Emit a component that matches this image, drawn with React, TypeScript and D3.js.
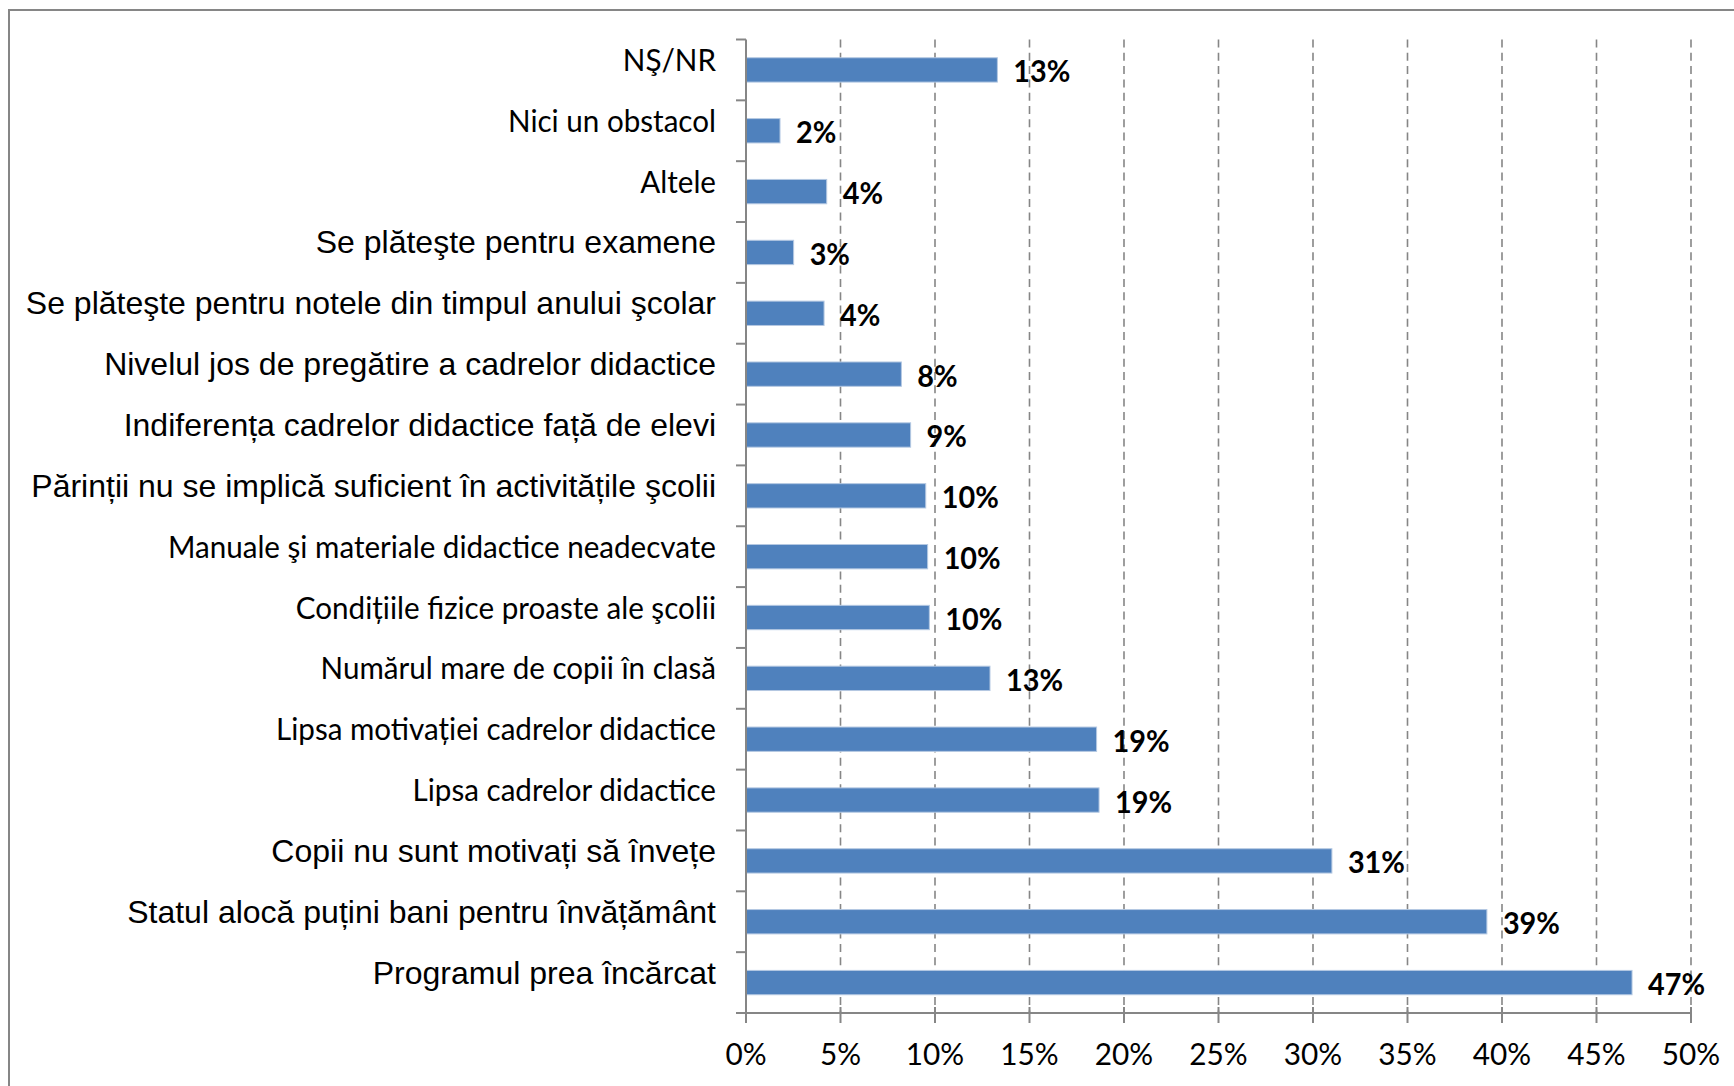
import React from "react";
import * as d3 from "d3";

const categories = [
  "NŞ/NR",
  "Nici un obstacol",
  "Altele",
  "Se plăteşte pentru examene",
  "Se plăteşte pentru notele din timpul anului şcolar",
  "Nivelul jos de pregătire a cadrelor didactice",
  "Indiferența cadrelor didactice față de elevi",
  "Părinții nu se implică suficient în activitățile şcolii",
  "Manuale şi materiale didactice neadecvate",
  "Condițiile fizice proaste ale şcolii",
  "Numărul mare de copii în clasă",
  "Lipsa motivației cadrelor didactice",
  "Lipsa cadrelor didactice",
  "Copii nu sunt motivați să învețe",
  "Statul alocă puțini bani pentru învățământ",
  "Programul prea încărcat",
];

const values = [13.3, 1.8, 4.27, 2.52, 4.13, 8.22, 8.71, 9.51, 9.61, 9.7, 12.91, 18.55, 18.68, 31.0, 39.2, 46.88];

// which labels use the Arial-like face (true) vs Calibri-like face (false)
const arialLabel = [false, false, false, true, true, true, true, true, false, false, false, false, false, true, true, true];

const xTicks = [0, 5, 10, 15, 20, 25, 30, 35, 40, 45, 50];

const W = 1734;
const H = 1086;
const plot = { left: 746, right: 1691, top: 39.5, bottom: 1013 };
const CAL = "Lato, 'Open Sans', sans-serif";
const ARI = "'Liberation Sans', Arial, sans-serif";
const GRAY = "#868686";

export default function App() {
  const x = d3.scaleLinear().domain([0, 50]).range([plot.left, plot.right]);
  const y = d3
    .scaleBand<string>()
    .domain(categories)
    .range([plot.top, plot.bottom])
    .paddingInner(0.6)
    .paddingOuter(0.3);
  const band = d3.scaleBand<string>().domain(categories).range([plot.top, plot.bottom]);
  const bw = band.bandwidth();

  return (
    <svg
      width={W}
      height={H}
      style={{ position: "absolute", left: 0, top: 0, background: "#fff" }}
    >
      <rect x={0} y={0} width={W} height={H} fill="#fff" />
      <rect x={9} y={10} width={W + 20} height={H + 20} fill="none" stroke={GRAY} strokeWidth={2} />

      {/* gridlines */}
      {xTicks.filter((t) => t > 0).map((t) => (
        <line
          key={"g" + t}
          x1={x(t)}
          x2={x(t)}
          y1={plot.top}
          y2={plot.bottom}
          stroke={GRAY}
          strokeWidth={1.6}
          strokeDasharray="8 5.3"
        />
      ))}

      {/* bars */}
      {categories.map((c, i) => (
        <rect
          key={"b" + i}
          x={x(0)}
          y={y(c)}
          width={x(values[i]) - x(0)}
          height={y.bandwidth()}
          fill="#4F81BD"
          stroke="#B4C8E2"
          strokeWidth={1}
        />
      ))}

      {/* value labels */}
      {categories.map((c, i) => (
        <text
          key={"v" + i}
          transform={`translate(${x(values[i]) + 16},${(y(c) as number) + y.bandwidth() / 2 + 12.5}) scale(0.93,1)`}
          fontFamily={CAL}
          fontWeight={700}
          fontSize={31}
          fill="#000"
        >
          {Math.round(values[i]) + "%"}
        </text>
      ))}

      {/* y axis */}
      <line x1={plot.left} x2={plot.left} y1={plot.top} y2={plot.bottom + 1} stroke={GRAY} strokeWidth={2} />
      {d3.range(categories.length + 1).map((k) => (
        <line
          key={"yt" + k}
          x1={plot.left - 10}
          x2={plot.left}
          y1={plot.top + k * bw}
          y2={plot.top + k * bw}
          stroke={GRAY}
          strokeWidth={2}
        />
      ))}
      {categories.map((c, i) => (
        <text
          key={"c" + i}
          transform={`translate(716,${(band(c) as number) + bw / 2 + 1}) scale(${arialLabel[i] ? 1 : 0.955},1)`}
          textAnchor="end"
          fontFamily={arialLabel[i] ? ARI : CAL}
          fontSize={arialLabel[i] ? 32 : 31}
          fill="#000"
        >
          {c}
        </text>
      ))}

      {/* x axis */}
      <line x1={plot.left - 10} x2={plot.right} y1={plot.bottom} y2={plot.bottom} stroke={GRAY} strokeWidth={2} />
      {xTicks.map((t) => (
        <g key={"xt" + t}>
          <line x1={x(t)} x2={x(t)} y1={plot.bottom - 6} y2={plot.bottom + 10} stroke={GRAY} strokeWidth={2} />
          <text
            transform={`translate(${x(t)},1065) scale(0.96,1)`}
            textAnchor="middle"
            fontFamily={CAL}
            fontSize={31}
            fill="#000"
          >
            {t + "%"}
          </text>
        </g>
      ))}
    </svg>
  );
}
